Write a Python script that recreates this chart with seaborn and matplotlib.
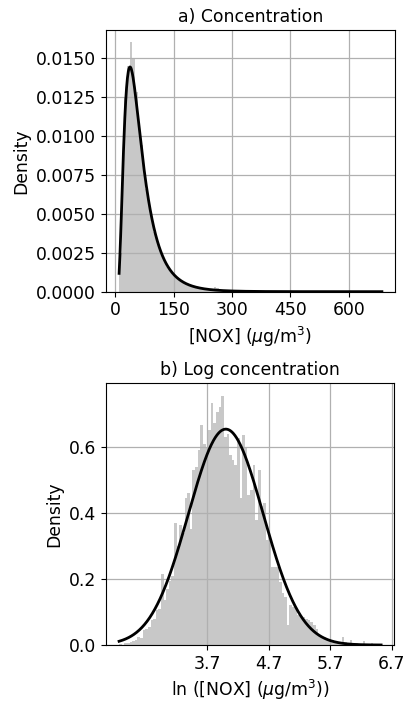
import numpy as np
import pandas as pd
import matplotlib
matplotlib.use("Agg")
import matplotlib.pyplot as plt
import seaborn as sns

# ---------------- data ----------------
nox_min = 9.6      # smallest concentration (µg/m3)
nox_max = 685.0    # largest concentration (µg/m3)
n_bins = 100

# fitted log-normal parameters (mean / sd of ln concentration)
fit_mu = 4.0
fit_sigma = 0.61

# histogram heights (density) of the concentration, 100 equal bins
conc_density = [
    0.0025, 0.0080, 0.0125, 0.0145, 0.0160, 0.0150, 0.0128, 0.0108, 0.0094, 0.0079,
    0.0066, 0.0055, 0.0046, 0.0038, 0.0032, 0.0026, 0.0023, 0.0019, 0.0016, 0.0013,
    0.0011, 0.0009, 0.00085, 0.0007, 0.0006, 0.00052, 0.00045, 0.0004, 0.00035, 0.0003,
    0.00026, 0.00022, 0.0002, 0.00017, 0.00014, 0.00015, 0.0003, 0.00025, 0.0001, 0.00009,
    0.00008, 0.00007, 0.00006, 0.00006, 0.00005, 0.00005, 0.00004, 0.00004, 0.00003, 0.00003,
    0.00003, 0.00002, 0.00005, 0.00002, 0.00002, 0.00002, 0.00001, 0.00001, 0.00001, 0.00001,
    0.00001, 0.00001, 0.00001, 0.00001, 0.00001, 0.0, 0.00001, 0.0, 0.0, 0.00001,
    0.0, 0.0, 0.0, 0.00001, 0.0, 0.0, 0.0, 0.0, 0.0, 0.0,
    0.0, 0.0, 0.0, 0.0, 0.0, 0.0, 0.0, 0.0, 0.0, 0.0,
    0.0, 0.0, 0.0, 0.0, 0.0, 0.0, 0.0, 0.0, 0.0, 0.00001,
]

# histogram heights (density) of ln concentration, 100 equal bins
log_density = [
    0.004, 0.0, 0.005, 0.007, 0.008, 0.012, 0.015, 0.024, 0.022, 0.045,
    0.050, 0.055, 0.075, 0.080, 0.105, 0.110, 0.215, 0.135, 0.170, 0.195,
    0.210, 0.370, 0.300, 0.365, 0.340, 0.445, 0.460, 0.350, 0.530, 0.540,
    0.590, 0.667, 0.610, 0.600, 0.650, 0.733, 0.672, 0.705, 0.720, 0.755,
    0.630, 0.640, 0.576, 0.560, 0.545, 0.627, 0.445, 0.636, 0.600, 0.455,
    0.470, 0.545, 0.380, 0.530, 0.420, 0.430, 0.318, 0.330, 0.237, 0.237,
    0.235, 0.190, 0.157, 0.146, 0.060, 0.120, 0.115, 0.110, 0.090, 0.085,
    0.085, 0.080, 0.075, 0.070, 0.060, 0.050, 0.030, 0.027, 0.025, 0.015,
    0.012, 0.015, 0.010, 0.010, 0.008, 0.025, 0.008, 0.005, 0.015, 0.006,
    0.005, 0.004, 0.004, 0.012, 0.003, 0.003, 0.006, 0.002, 0.002, 0.003,
]

conc_ticks = [0, 150, 300, 450, 600]
log_ticks = [3.7, 4.7, 5.7, 6.7]
conc_yticks = [0.0, 0.0025, 0.005, 0.0075, 0.01, 0.0125, 0.015]
log_yticks = [0.0, 0.2, 0.4, 0.6]

# ---------------- derived ----------------
conc_edges = np.linspace(nox_min, nox_max, n_bins + 1)
conc_centres = 0.5 * (conc_edges[:-1] + conc_edges[1:])
log_edges = np.linspace(np.log(nox_min), np.log(nox_max), n_bins + 1)
log_centres = 0.5 * (log_edges[:-1] + log_edges[1:])

xc = np.linspace(nox_min, nox_max, 600)
pdf_conc = np.exp(-(np.log(xc) - fit_mu) ** 2 / (2 * fit_sigma ** 2)) / (xc * fit_sigma * np.sqrt(2 * np.pi))
xl = np.linspace(np.log(nox_min), np.log(nox_max), 600)
pdf_log = np.exp(-(xl - fit_mu) ** 2 / (2 * fit_sigma ** 2)) / (fit_sigma * np.sqrt(2 * np.pi))

df_conc = pd.DataFrame({"x": conc_centres, "w": conc_density})
df_log = pd.DataFrame({"x": log_centres, "w": log_density})

# ---------------- plot ----------------
plt.rcParams.update({"font.size": 12.4, "font.family": ["DejaVu Sans"]})
bar_color = "#c8c8c8"

fig = plt.figure(figsize=(4.06, 7.04), dpi=100)
ax1 = fig.add_axes([0.261, 0.5857, 0.712, 0.3717])
ax2 = fig.add_axes([0.261, 0.0838, 0.710, 0.3717])

sns.histplot(data=df_conc, x="x", weights="w", bins=list(conc_edges), stat="count",
             color=bar_color, alpha=1, linewidth=0, ax=ax1)
sns.lineplot(x=xc, y=pdf_conc, color="black", linewidth=2, ax=ax1)
ax1.set_title("a) Concentration", fontsize=12.4)
ax1.set_xlabel(r"[NOX] ($\mu$g/m$^3$)")
ax1.set_ylabel("Density")
ax1.set_xticks(conc_ticks)
ax1.set_yticks(conc_yticks)
ax1.yaxis.set_major_formatter(matplotlib.ticker.FormatStrFormatter("%.4f"))
ax1.grid(True, color="#b0b0b0", linewidth=0.9)

sns.histplot(data=df_log, x="x", weights="w", bins=list(log_edges), stat="count",
             color=bar_color, alpha=1, linewidth=0, ax=ax2)
sns.lineplot(x=xl, y=pdf_log, color="black", linewidth=2, ax=ax2)
ax2.set_title("b) Log concentration", fontsize=12.4)
ax2.set_xlabel(r"ln ([NOX] ($\mu$g/m$^3$))")
ax2.set_ylabel("Density")
ax2.set_xticks(log_ticks)
ax2.set_yticks(log_yticks)
ax2.yaxis.set_major_formatter(matplotlib.ticker.FormatStrFormatter("%.1f"))
ax2.grid(True, color="#b0b0b0", linewidth=0.9)

fig.savefig("out.png", dpi=100)
